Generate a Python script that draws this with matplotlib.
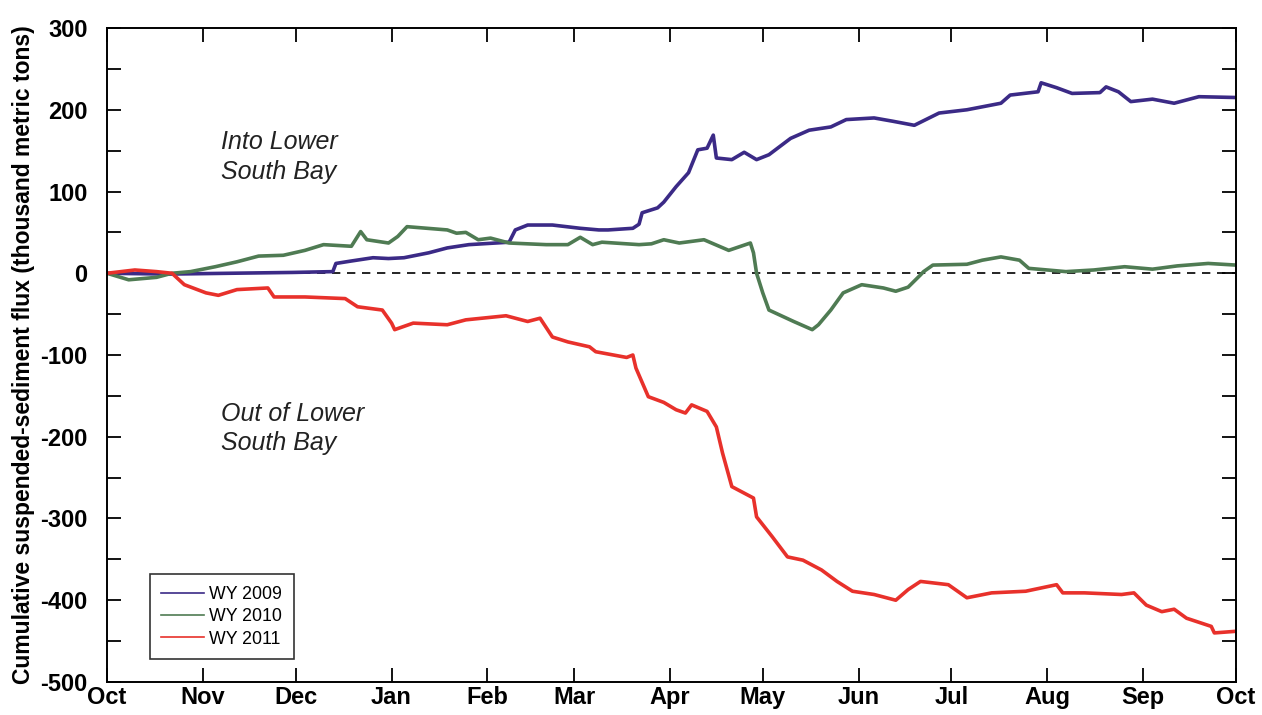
import matplotlib.pyplot as plt

# ---------------------------------------------------------------------------
# Data (days since Oct 1, cumulative flux in thousand metric tons)
# ---------------------------------------------------------------------------

MONTHS = ["Oct", "Nov", "Dec", "Jan", "Feb", "Mar", "Apr",
          "May", "Jun", "Jul", "Aug", "Sep", "Oct"]
MONTH_DAYS = [0, 31, 61, 92, 123, 151, 182, 212, 243, 273, 304, 335, 365]

wy2009_day = [0, 20, 40, 60, 73, 74, 79, 86, 91, 96, 104, 110, 117, 130,
              132, 136, 144, 153, 159, 162, 170, 172, 173, 178, 180, 184,
              188, 191, 194, 196, 197, 202, 206, 210, 214, 221, 227, 234,
              239, 248, 254, 261, 269, 278, 289, 292, 301, 302, 307, 312,
              321, 323, 327, 331, 338, 345, 353, 365]
wy2009_val = [0, -1, 0, 1, 2, 12, 15, 19, 18, 19, 25, 31, 35, 38,
              53, 59, 59, 55, 53, 53, 55, 60, 74, 80, 87, 106,
              123, 151, 153, 169, 141, 139, 148, 139, 145, 165, 175, 179,
              188, 190, 186, 181, 196, 200, 208, 218, 222, 233, 227, 220,
              221, 228, 222, 210, 213, 208, 216, 215]

wy2010_day = [0, 7, 16, 21, 27, 35, 42, 49, 57, 64, 70, 79, 82, 84, 91, 94,
              97, 110, 113, 116, 120, 124, 130, 142, 149, 153, 157, 160, 172,
              176, 180, 185, 193, 201, 208, 209, 210, 212, 214, 222, 228, 230,
              234, 238, 244, 251, 255, 259, 263, 264, 267, 278, 283, 289, 295,
              298, 310, 319, 329, 338, 346, 356, 365]
wy2010_val = [0, -8, -5, 0, 2, 8, 14, 21, 22, 28, 35, 33, 51, 41, 37, 45,
              57, 53, 49, 50, 41, 43, 37, 35, 35, 44, 35, 38, 35,
              36, 41, 37, 41, 28, 37, 25, 0, -24, -45, -59, -69, -63,
              -45, -24, -14, -18, -22, -17, -2, 2, 10, 11, 16, 20, 16,
              6, 2, 4, 8, 5, 9, 12, 10]

wy2011_day = [0, 9, 16, 21, 25, 32, 36, 42, 52, 54, 64, 77, 81, 89, 92, 93,
              99, 110, 116, 129, 136, 140, 144, 149, 156, 158, 168, 170, 171,
              175, 180, 184, 187, 189, 194, 197, 199, 202, 209, 210, 215, 220,
              225, 231, 236, 241, 248, 255, 259, 263, 272, 278, 286, 297, 307,
              309, 316, 328, 332, 336, 341, 345, 349, 357, 358, 365]
wy2011_val = [0, 4, 2, 0, -14, -24, -27, -20, -18, -29, -29, -31, -41, -45,
              -61, -69, -61, -63, -57, -52, -59, -55, -78, -84, -90, -96,
              -103, -100, -116, -151, -158, -167, -171, -161, -169, -188,
              -220, -261, -275, -298, -322, -347, -351, -363, -377, -389,
              -393, -400, -387, -377, -381, -397, -391, -389, -381, -391,
              -391, -393, -391, -406, -414, -411, -422, -432, -440, -438]

YTICKS = [-500, -400, -300, -200, -100, 0, 100, 200, 300]

# ---------------------------------------------------------------------------
# Plot
# ---------------------------------------------------------------------------

plt.rcParams["font.family"] = ["Liberation Sans", "DejaVu Sans"]

fig = plt.figure(figsize=(12.62, 7.15), dpi=100)
ax = fig.add_axes([0.0848, 0.0462, 0.8946, 0.9146])

ax.axhline(0, color="black", linestyle=(0, (5, 4)), linewidth=1.2, zorder=1)

ax.plot(wy2009_day, wy2009_val, color="#3b2a86", linewidth=2.6, label="WY 2009")
ax.plot(wy2010_day, wy2010_val, color="#4f7b53", linewidth=2.6, label="WY 2010")
ax.plot(wy2011_day, wy2011_val, color="#e8312b", linewidth=2.6, label="WY 2011")

ax.set_xlim(0, 365)
ax.set_ylim(-500, 300)
ax.set_xticks(MONTH_DAYS)
ax.set_xticklabels(MONTHS, fontsize=17, fontweight="bold")
ax.set_yticks(YTICKS)
ax.set_yticklabels([str(v) for v in YTICKS], fontsize=17, fontweight="bold")
ax.set_yticks(range(-450, 300, 100), minor=True)
ax.tick_params(which="both", direction="in", length=10, width=1.3,
               top=True, right=True)
ax.tick_params(axis="x", pad=3)
ax.tick_params(axis="y", pad=14)
for s in ax.spines.values():
    s.set_linewidth(1.4)

ax.set_ylabel("Cumulative suspended-sediment flux (thousand metric tons)",
              fontsize=16.5, fontweight="bold", labelpad=4)

ax.text(37, 142, "Into Lower\nSouth Bay", fontsize=18, style="italic",
        color="#222222", va="center", linespacing=1.3)
ax.text(37, -190, "Out of Lower\nSouth Bay", fontsize=18, style="italic",
        color="#222222", va="center", linespacing=1.3)

leg = ax.legend(loc="lower left", bbox_to_anchor=(0.038, 0.035),
                borderaxespad=0, fontsize=12.8,
                frameon=True, fancybox=False, handlelength=2.4,
                handletextpad=0.3, borderpad=0.65, labelspacing=0.3)
leg.get_frame().set_edgecolor("black")
leg.get_frame().set_linewidth(1.2)
for line in leg.get_lines():
    line.set_linewidth(1.2)

fig.savefig("out.png", dpi=100)
